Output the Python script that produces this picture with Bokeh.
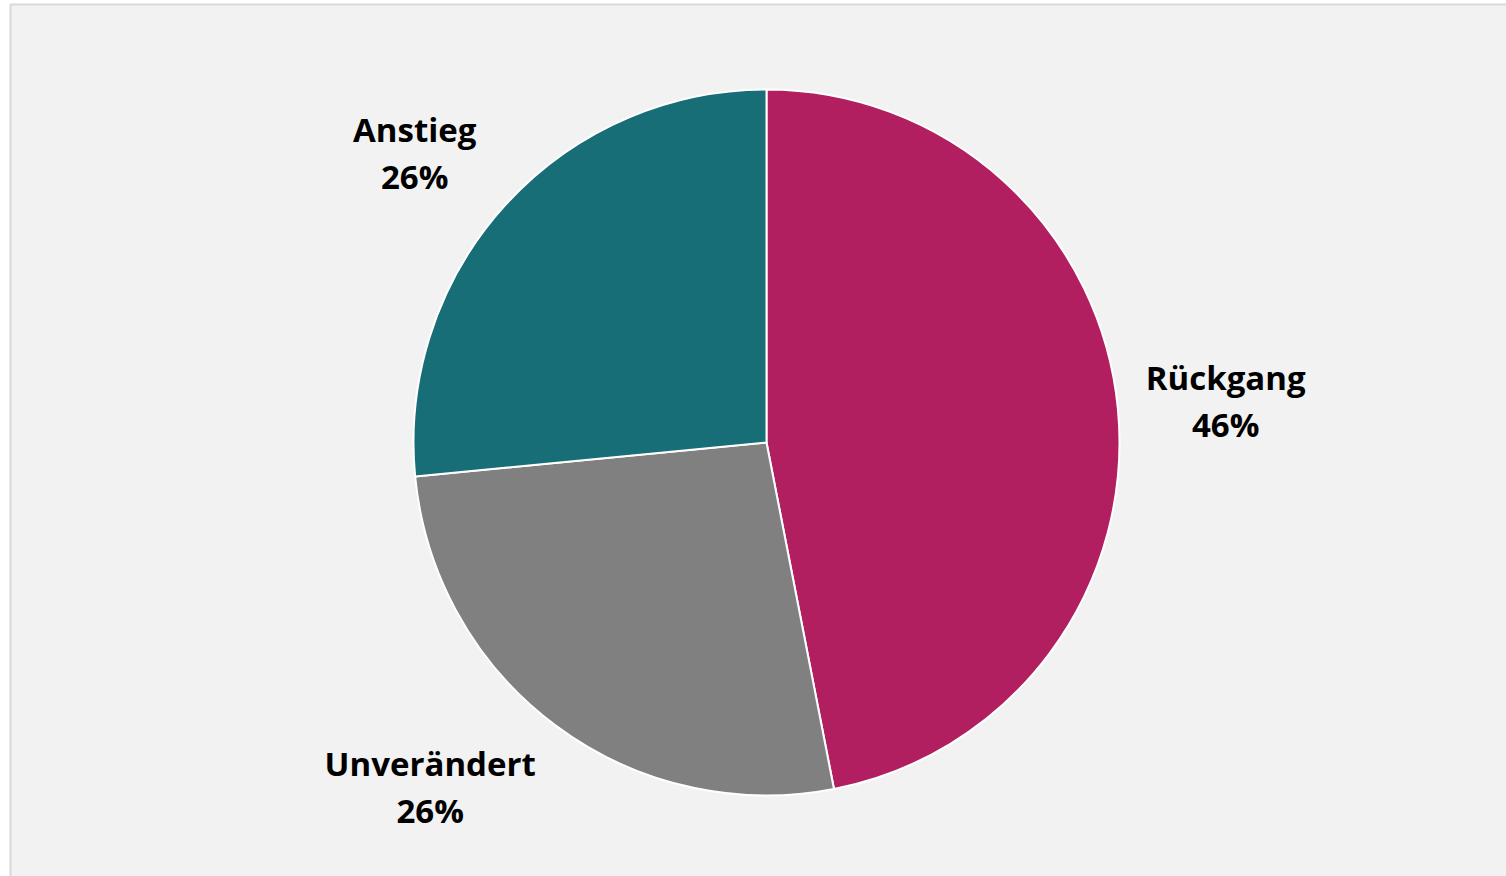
import math
from bokeh.plotting import figure
from bokeh.models import Range1d, ColumnDataSource
from bokeh.embed import file_html
from bokeh.resources import INLINE
from bokeh.core.properties import value

# ---- data ----
categories = ["Rückgang", "Unverändert", "Anstieg"]
values = [46, 26, 26]
pct_labels = ["46%", "26%", "26%"]
colors = ["#B11F61", "#808080", "#176E77"]

# ---- layout (pixel coordinates, y measured from top) ----
W, H = 1506, 876
CX, CY_TOP, R = 766, 442, 353
cx, cy = CX, H - CY_TOP
FONT = "Open Sans"
FS = 33
LINE_GAP = 47
CHAR_W = 19.5
LABEL_R = 383
BG = "#F2F2F2"

total = sum(values)
starts, ends, mids = [], [], []
a = math.pi / 2
for v in values:
    span = 2 * math.pi * v / total
    starts.append(a)
    ends.append(a - span)
    mids.append(a - span / 2)
    a -= span

lx, ly_name, ly_pct = [], [], []
for cat, m in zip(categories, mids):
    w = len(cat) * CHAR_W
    h = 2 * LINE_GAP
    c, s = math.cos(m), math.sin(m)
    x = cx + LABEL_R * c + math.copysign(w / 2, c)
    y = cy + LABEL_R * s + (h / 2) * s
    lx.append(x)
    ly_name.append(y + LINE_GAP / 2)
    ly_pct.append(y - LINE_GAP / 2)

src = ColumnDataSource(dict(cat=categories, val=values, pct=pct_labels, color=colors,
                            start=starts, end=ends, lx=lx, lyn=ly_name, lyp=ly_pct))

p = figure(width=W, height=H, output_backend="svg", toolbar_location=None,
           x_range=Range1d(0, W), y_range=Range1d(0, H), min_border=0,
           background_fill_color="white", border_fill_color="white",
           outline_line_color=None)
p.axis.visible = False
p.grid.visible = False

# chart area panel with light border on left/top
p.quad(left=[10], right=[W + 5], bottom=[-5], top=[H - 4],
       fill_color=BG, line_color="#D9D9D9", line_width=2)

p.wedge(x=cx, y=cy, radius=R, start_angle="start", end_angle="end",
        direction="clock", fill_color="color", line_color="white", line_width=2,
        source=src)

p.text(x="lx", y="lyn", text="cat", source=src, text_font=value(FONT),
       text_font_size=f"{FS}px", text_font_style="bold", text_color="black",
       text_align="center", text_baseline="middle")
p.text(x="lx", y="lyp", text="pct", source=src, text_font=value(FONT),
       text_font_size=f"{FS}px", text_font_style="bold", text_color="black",
       text_align="center", text_baseline="middle")

open("out.html", "w").write(file_html(p, INLINE))
